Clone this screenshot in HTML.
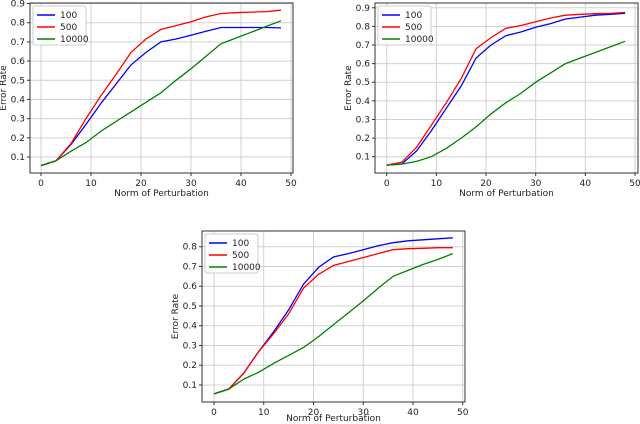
<!DOCTYPE html>
<html><head><meta charset="utf-8"><style>
body{margin:0;background:#fff;}
svg{display:block;font-family:"DejaVu Sans","Liberation Sans",sans-serif;}
</style></head><body>
<svg id="s" width="640" height="424"></svg>
<script>
const xs=[0,3,6,9,12,15,18,21,24,27,30,33,36,39,42,45,48];
const xTicks=[0,10,20,30,40,50];
const seriesNames=["100","500","10000"];
const colors=["#0000ff","#ff0000","#008000"];
const c1_100=[0.055,0.08,0.165,0.27,0.38,0.48,0.58,0.645,0.70,0.715,0.735,0.755,0.775,0.775,0.775,0.775,0.773];
const c1_500=[0.055,0.08,0.17,0.3,0.42,0.53,0.645,0.715,0.765,0.785,0.805,0.83,0.848,0.852,0.855,0.858,0.865];
const c1_10000=[0.055,0.08,0.13,0.175,0.235,0.285,0.335,0.385,0.435,0.50,0.56,0.625,0.69,0.72,0.75,0.78,0.81];
const c2_100=[0.055,0.06,0.13,0.24,0.36,0.48,0.63,0.70,0.75,0.77,0.795,0.815,0.84,0.85,0.86,0.865,0.87];
const c2_500=[0.055,0.07,0.15,0.27,0.39,0.52,0.68,0.74,0.79,0.805,0.825,0.845,0.86,0.865,0.868,0.87,0.875];
const c2_10000=[0.055,0.06,0.075,0.10,0.145,0.2,0.26,0.33,0.39,0.44,0.50,0.55,0.60,0.63,0.66,0.69,0.72];
const c3_100=[0.055,0.08,0.16,0.27,0.37,0.48,0.61,0.695,0.748,0.765,0.785,0.805,0.82,0.83,0.835,0.84,0.845];
const c3_500=[0.055,0.08,0.16,0.27,0.36,0.46,0.59,0.66,0.705,0.725,0.745,0.765,0.785,0.79,0.792,0.795,0.795];
const c3_10000=[0.055,0.08,0.13,0.165,0.21,0.25,0.29,0.345,0.405,0.465,0.525,0.59,0.65,0.68,0.71,0.735,0.765];
const yTicks1=[0.1,0.2,0.3,0.4,0.5,0.6,0.7,0.8,0.9];
const yTicks3=[0.1,0.2,0.3,0.4,0.5,0.6,0.7,0.8];
const NS="http://www.w3.org/2000/svg";
const svg=document.getElementById('s');
function mk(p,t,a){const e=document.createElementNS(NS,t);for(const k in a)e.setAttribute(k,a[k]);p.appendChild(e);return e;}
function chart(id,box,x0px,x50px,y1px,y8px,yTicks,series,ylabX,xlabY){
  const g=mk(svg,'g',{});
  
  
  const sx=v=>x0px+(x50px-x0px)*v/50;
  const sy=v=>y1px+(y8px-y1px)*(v-0.1)/0.7;
  mk(g,'rect',{x:box.l,y:box.t,width:box.r-box.l,height:box.b-box.t,fill:'#fff'});
  xTicks.forEach(t=>{const x=sx(t);
    const l=mk(g,'line',{x1:x,x2:x,y1:box.t,y2:box.b,stroke:'#d0d0d0','stroke-width':1});
    
    mk(g,'line',{x1:x,x2:x,y1:box.b,y2:box.b+3,stroke:'#333'});
    const tx=mk(g,'text',{x:x,y:box.b+13,'font-size':9,'text-anchor':'middle',fill:'#222'});tx.textContent=t;
    });
  yTicks.forEach(t=>{const y=sy(t);
    const l=mk(g,'line',{x1:box.l,x2:box.r,y1:y,y2:y,stroke:'#d0d0d0','stroke-width':1});
    
    mk(g,'line',{x1:box.l-3,x2:box.l,y1:y,y2:y,stroke:'#333'});
    const tx=mk(g,'text',{x:box.l-5,y:y+3,'font-size':9,'text-anchor':'end',fill:'#222'});tx.textContent=t.toFixed(1);
    });
  series.forEach((d,i)=>{
    const p=mk(g,'polyline',{points:d.map((v,j)=>sx(xs[j]).toFixed(1)+','+sy(v).toFixed(1)).join(' '),fill:'none',stroke:colors[i],'stroke-width':1.3});
    });
  mk(g,'rect',{x:box.l,y:box.t,width:box.r-box.l,height:box.b-box.t,fill:'none',stroke:'#333','stroke-width':1});
  const lg=mk(g,'g',{});
  
  mk(lg,'rect',{x:box.l+3,y:box.t+3,width:53,height:39,fill:'#fff',stroke:'#ccc',rx:2});
  seriesNames.forEach((n,i)=>{const y=box.t+12+i*12;
    mk(lg,'line',{x1:box.l+7,x2:box.l+25,y1:y,y2:y,stroke:colors[i],'stroke-width':1.5});
    const tx=mk(lg,'text',{x:box.l+30,y:y+3,'font-size':9,fill:'#222'});tx.textContent=n;
    });
  const xl=mk(g,'text',{x:(box.l+box.r)/2,y:xlabY,'font-size':9,'text-anchor':'middle',fill:'#222'});xl.textContent='Norm of Perturbation';
  
  const cy=(box.t+box.b)/2;
  const yl=mk(g,'text',{x:ylabX,y:cy,'font-size':9,'text-anchor':'middle',fill:'#222',transform:`rotate(-90 ${ylabX} ${cy})`});yl.textContent='Error Rate';
  
}
chart('chart-top-left',{l:30,r:293,t:3,b:173},41,291,157,22.7,yTicks1,[c1_100,c1_500,c1_10000],6,196);
chart('chart-top-right',{l:375,r:638,t:3,b:173},386.7,635,156.7,26.4,yTicks1,[c2_100,c2_500,c2_10000],351,196);
chart('chart-bottom',{l:202,r:465,t:231,b:402},214,462.7,385,246.7,yTicks3,[c3_100,c3_500,c3_10000],178,421);
</script>
</body></html>
